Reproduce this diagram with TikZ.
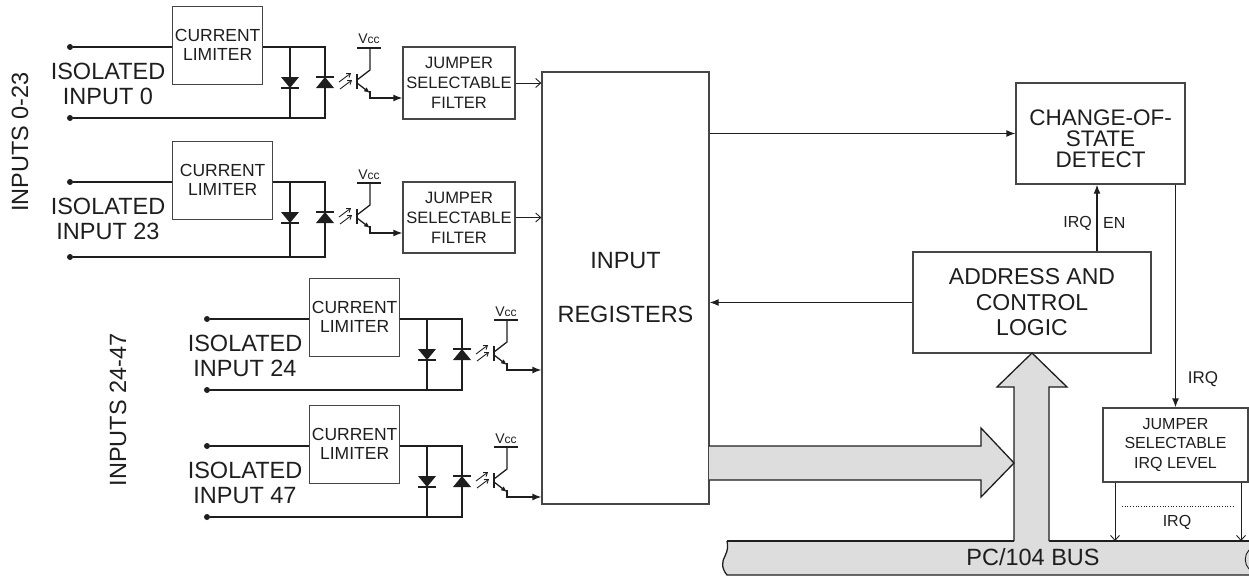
\documentclass[tikz,border=0pt]{standalone}
\usepackage{fontspec}
\setmainfont{Liberation Sans}
\usetikzlibrary{arrows.meta}
\definecolor{ln}{RGB}{30,30,30}
\definecolor{bx}{RGB}{70,70,70}
\definecolor{busfill}{RGB}{221,221,221}
\tikzset{
  wire/.style={draw=ln, line width=1.3pt},
  thinwire/.style={draw=ln, line width=0.9pt},
  box/.style={draw=bx, line width=1.3pt, inner sep=0pt, align=center, text=ln},
  dot/.style={circle, fill=ln, inner sep=0pt, minimum size=6pt},
  txt/.style={inner sep=0pt, align=center, text=ln},
  bigf/.style={font=\fontsize{23}{25}\selectfont},
  clf/.style={font=\fontsize{17.5}{19}\selectfont},
  jff/.style={font=\fontsize{16.5}{20}\selectfont},
  smf/.style={font=\fontsize{16}{18}\selectfont},
  solidarrow/.style={-{Latex[length=9pt,width=7pt]}},
  openarrow/.style={-{Straight Barb[length=5pt,width=9pt]}},
}
% #1 prefix, #2 dx, #3 ytop, #4 height, #5 box width, #6 target node, #7 label
\newcommand\inchan[7]{%
\begin{scope}[shift={(#2,#3)}]
  \node[dot] (#1a) at (70,0) {};
  \node[dot] (#1b) at (70,#4) {};
  \node[box, anchor=north west, minimum width=#5pt, minimum height=78pt] (#1cl) at (172,-41) {};
  \node[txt, clf] (#1clt) at (#1cl.north |- 0,-2) {CURRENT\\LIMITER};
  \node[txt, font=\fontsize{23.5}{25}\selectfont] (#1lab) at (108,37) {#7};
  \coordinate (#1j1) at (290,0);
  \coordinate (#1j2) at (325,0);
  \coordinate (#1k1) at (290,#4);
  \coordinate (#1k2) at (325,#4);
  \draw[wire] (#1a) -- (#1cl.west |- #1a);
  \draw[wire] (#1cl.east |- #1a) -- (#1j2) -- (#1k2) -- (#1b);
  \draw[wire] (#1j1) -- (#1k1);
  % diode and LED
  \fill[ln] (281,30) -- (299,30) -- (290,41) -- cycle;
  \draw[wire] (281,41) -- (299,41);
  \fill[ln] (316,41) -- (334,41) -- (325,30) -- cycle;
  \draw[wire] (316,30) -- (334,30);
  % light arrows
  \draw[thinwire, -{Straight Barb[length=3.5pt,width=5pt]}] (339,35) -- (351,26);
  \draw[thinwire, -{Straight Barb[length=3.5pt,width=5pt]}] (340,42) -- (352,33);
  % phototransistor
  \draw[wire] (357,27) -- (357,42);
  \draw[wire] (357,33) -- (370,23) -- (370,1);
  \draw[wire] (357,1) -- (381,1);
  \node[txt, anchor=base] (#1vcc) at (369,-3) {{\fontsize{14}{14}\selectfont V}{\fontsize{12}{12}\selectfont cc}};
  \draw[wire, -{Latex[length=6pt,width=5pt]}] (357,36) -- (370,46);
  \coordinate (#1e) at (370,51);
  \draw[wire, solidarrow] (370,44) -- (#1e) -- (#6.west |- #1e);
\end{scope}}
\begin{document}
\begin{tikzpicture}[x=1pt,y=-1pt]
\useasboundingbox (0,0) rectangle (1249,578);
% main blocks
\node[box, jff, minimum width=112pt, minimum height=72pt] (jsf1) at (459,83) {JUMPER\\SELECTABLE\\FILTER};
\node[box, jff, minimum width=112pt, minimum height=71pt] (jsf2) at (459,217.5) {JUMPER\\SELECTABLE\\FILTER};
\node[box, minimum width=167pt, minimum height=432pt] (inreg) at (625.5,288) {};
\node[txt, font=\fontsize{23.5}{25}\selectfont] (inregt) at (625.5,288) {INPUT\\[29pt]REGISTERS};
\node[box, minimum width=169pt, minimum height=101pt] (cos) at (1100.5,133.5) {};
\node[txt, font=\fontsize{22.5}{21}\selectfont] (cost) at (1100.5,139) {CHANGE-OF-\\STATE\\DETECT};
\node[box, font=\fontsize{23}{25.5}\selectfont, minimum width=238pt, minimum height=101pt] (addr) at (1032,302.5) {ADDRESS AND\\CONTROL\\LOGIC};
\node[box, font=\fontsize{16}{19.5}\selectfont, minimum width=145pt, minimum height=74pt] (jsel) at (1175.5,445) {JUMPER\\SELECTABLE\\IRQ LEVEL};

% side labels
\node[txt, font=\fontsize{23.5}{25}\selectfont, rotate=90] (in1) at (20,142) {INPUTS 0-23};
\node[txt, font=\fontsize{23.5}{25}\selectfont, rotate=90] (in2) at (118,410) {INPUTS 24-47};

% input channels
\inchan{c1}{0}{47}{71}{90}{jsf1}{ISOLATED\\INPUT 0}
\inchan{c2}{0}{182}{75}{100}{jsf2}{ISOLATED\\INPUT 23}
\inchan{c3}{137}{319}{71}{90}{inreg}{ISOLATED\\INPUT 24}
\inchan{c4}{137}{446}{71}{90}{inreg}{ISOLATED\\INPUT 47}

% filter outputs
\draw[thinwire, openarrow] (jsf1.east) -- (inreg.west |- jsf1.east);
\draw[thinwire, openarrow] (jsf2.east) -- (inreg.west |- jsf2.east);

% right side connectors
\draw[wire, solidarrow] (inreg.east |- cos.west) -- (cos.west);
\draw[wire, solidarrow] (addr.west) -- (inreg.east |- addr.west);
\coordinate (enx) at (1097,0);
\draw[wire, solidarrow] (addr.north -| enx) -- (cos.south -| enx);
\node[txt, smf, anchor=east] (irq1) at (1092,223) {IRQ};
\node[txt, smf, anchor=west] (en1) at (1103,223) {EN};
\draw[wire, solidarrow] (cos.south -| jsel.north) -- (jsel.north);
\node[txt, font=\fontsize{17}{18}\selectfont] (irq2) at (1203,379) {IRQ};

% bus
\fill[busfill] (727,541) -- (1249,541) -- (1249,575) -- (727,575)
  .. controls (721,568) and (722,561) .. (725,556)
  .. controls (728,550) and (728,546) .. (727,541) -- cycle;
\draw[wire] (727,541) -- (1014,541);
\draw[wire] (1049,541) -- (1249,541);
\draw[wire] (1249,575) -- (727,575)
  .. controls (721,568) and (722,561) .. (725,556)
  .. controls (728,550) and (728,546) .. (727,541);
\draw[thinwire] (1249,550) .. controls (1244,555) and (1244,564) .. (1249,569);
\node[txt, font=\fontsize{23.5}{25}\selectfont] (bust) at (1033,557) {PC/104 BUS};

% big vertical arrow
\fill[busfill] (1014,542) -- (1014,387) -- (997,387) -- (1032,353) -- (1067,387) -- (1049,387) -- (1049,542) -- cycle;
\draw[wire] (1014,541) -- (1014,387) -- (997,387) -- (1032,353) -- (1067,387) -- (1049,387) -- (1049,541);
% big horizontal arrow
\fill[busfill] (709,446) -- (981,446) -- (981,428) -- (1014,463) -- (981,497) -- (981,480) -- (709,480) -- cycle;
\draw[wire] (709,446) -- (981,446) -- (981,428) -- (1014,463) -- (981,497) -- (981,480) -- (709,480);

% IRQ outputs to bus
\coordinate (b1) at (1115,541);
\coordinate (b2) at (1241,541);
\draw[thinwire, openarrow] (jsel.south -| b1) -- (b1);
\draw[thinwire, openarrow] (jsel.south -| b2) -- (b2);
\draw[ln, line width=0.7pt, dotted] (1122,506) -- (1233,506);
\node[txt, font=\fontsize{16}{18}\selectfont] (irq3) at (1177,522) {IRQ};
\end{tikzpicture}
\end{document}
